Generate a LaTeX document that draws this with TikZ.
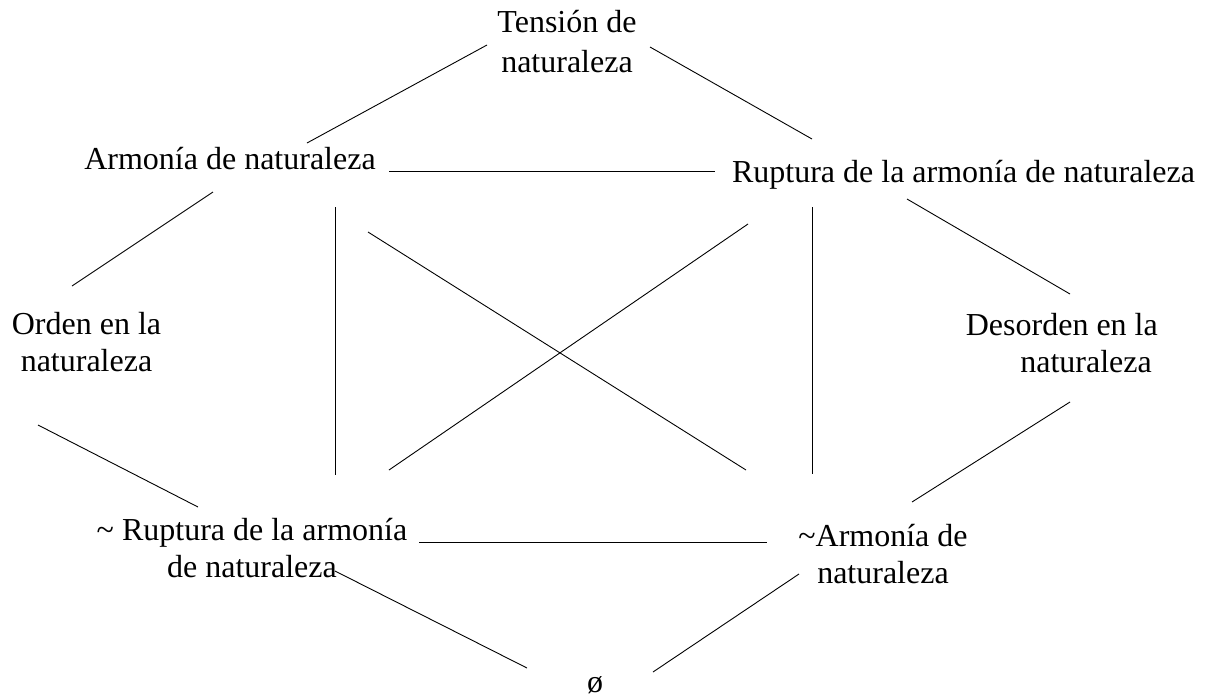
\documentclass[tikz,border=0pt]{standalone}
\usepackage{fontspec}
\setmainfont{Liberation Serif}
\begin{document}
\begin{tikzpicture}[x=1pt,y=-1pt,
  lbl/.style={inner sep=0pt,anchor=base,align=center,font=\fontsize{32}{37}\selectfont},
  link/.style={draw=black,line width=0.9pt}]
\useasboundingbox (0,0) rectangle (1211,697);
% labels (anchored at last-line baseline)
\node[lbl] (ten) at (567,72) {Tensión de\\[3pt]naturaleza};
\node[lbl] (arm) at (230,169) {Armonía de naturaleza};
\node[lbl] (rup) at (963.5,182) {Ruptura de la armonía de naturaleza};
\node[lbl] (ord) at (86.5,371) {Orden en la\\naturaleza};
\node[lbl,anchor=base east,align=right] (des) at (1158,372) {Desorden en la\\naturaleza\hspace*{6pt}};
\node[lbl] (nrup) at (252,577) {\textasciitilde{} Ruptura de la armonía\\de naturaleza};
\node[lbl] (narm) at (883,583) {\textasciitilde Armonía de\\naturaleza};
\node[lbl] (empty) at (595,692) {ø};
% connector end points
\coordinate (armT) at (307,143);   \coordinate (tenL) at (487,45);
\coordinate (tenR) at (650,47);    \coordinate (rupT) at (812,139);
\coordinate (armR) at (389,171);   \coordinate (rupL) at (715,171);
\coordinate (armB) at (213,192);   \coordinate (ordT) at (72,286);
\coordinate (armV) at (335,207);   \coordinate (nrupV) at (335,475);
\coordinate (armD) at (368,232);   \coordinate (narmD) at (746,470);
\coordinate (rupD) at (748,224);   \coordinate (nrupD) at (389,470);
\coordinate (rupV) at (812,207);   \coordinate (narmV) at (812,474);
\coordinate (rupB) at (907,199);   \coordinate (desT) at (1070,294);
\coordinate (ordB) at (38,425);    \coordinate (nrupT) at (198,507);
\coordinate (desB) at (1070,402);  \coordinate (narmT) at (912,502);
\coordinate (nrupR) at (419,542);  \coordinate (narmL) at (767,542);
\coordinate (nrupB) at (335,571);  \coordinate (emptyL) at (527,668);
\coordinate (narmB) at (799,574);  \coordinate (emptyR) at (653,672);
% connectors
\draw[link] (armT) -- (tenL);
\draw[link] (tenR) -- (rupT);
\draw[link] (armR) -- (rupL);
\draw[link] (armB) -- (ordT);
\draw[link] (armV) -- (nrupV);
\draw[link] (armD) -- (narmD);
\draw[link] (rupD) -- (nrupD);
\draw[link] (rupV) -- (narmV);
\draw[link] (rupB) -- (desT);
\draw[link] (ordB) -- (nrupT);
\draw[link] (desB) -- (narmT);
\draw[link] (nrupR) -- (narmL);
\draw[link] (nrupB) -- (emptyL);
\draw[link] (narmB) -- (emptyR);
\end{tikzpicture}
\end{document}
